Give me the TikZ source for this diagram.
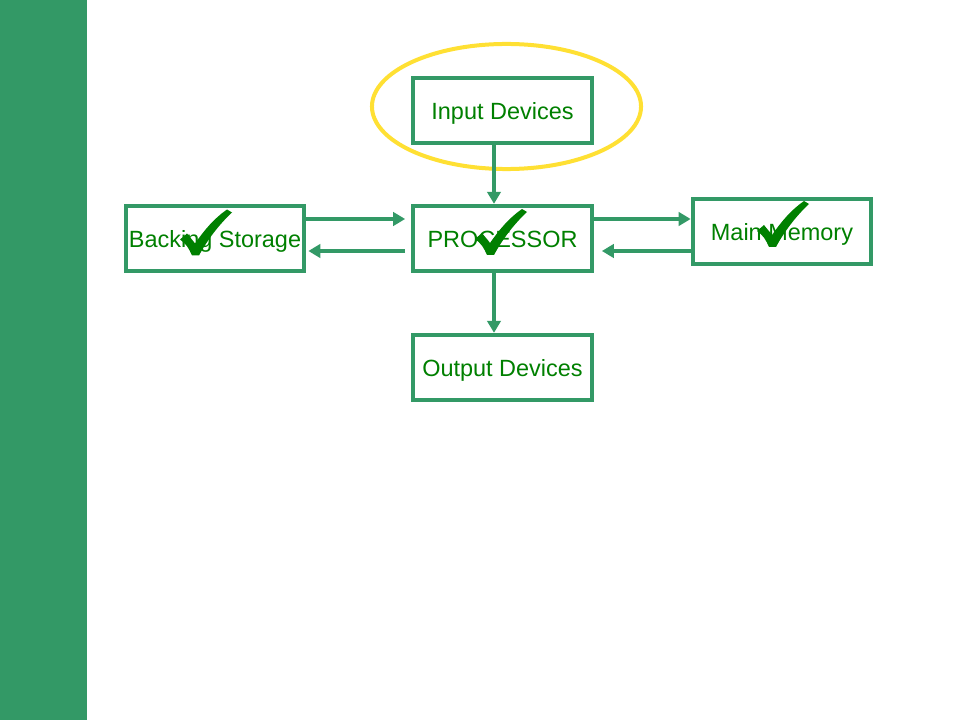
\documentclass[tikz,border=0pt]{standalone}
\usepackage{fontspec}
\setmainfont{Liberation Sans}
\usetikzlibrary{arrows.meta,calc}
\definecolor{boxgreen}{RGB}{51,153,102}
\definecolor{txtgreen}{RGB}{0,128,0}
\definecolor{ringyellow}{RGB}{255,224,51}
\begin{document}
\begin{tikzpicture}[x=0.75pt,y=-0.75pt,
  unitbox/.style={draw=boxgreen,line width=3pt,minimum width=134pt,minimum height=49pt,
    inner sep=0pt,text height=17.4pt,text depth=4pt,text=txtgreen,font=\fontsize{17.6}{21}\selectfont},
  flow/.style={draw=boxgreen,line width=3pt,-{Triangle[length=9pt,width=10pt]}},
  tickmark/.pic={\fill[txtgreen] (-3,0) .. controls (-6,-7) and (-9,-12) .. (-15,-16)
      -- (-8,-22) .. controls (-5,-18) and (-2,-15) .. (0,-12)
      .. controls (9,-25) and (19,-37) .. (32,-46) -- (37,-43)
      .. controls (24,-31) and (12,-15) .. (4,0) -- cycle;}]
\fill[white] (0,0) rectangle (960,720);
\useasboundingbox (0,0) rectangle (960,720);
\fill[boxgreen] (0,0) rectangle (87,720);
\draw[ringyellow,line width=3pt] (506.5,106.5) ellipse [x radius=100.9pt,y radius=46.9pt];
\node[unitbox] (inp) at (502.5,110.5) {Input Devices};
\node[unitbox] (back) at (215,238.5) {Backing Storage};
\node[unitbox] (proc) at (502.5,238.5) {PROCESSOR};
\node[unitbox] (mem) at (782,231.5) {Main Memory};
\node[unitbox] (out) at (502.5,367.5) {Output Devices};
\draw[flow] ($(inp.south)+(-8.5,0)$) -- ($(proc.north)+(-8.5,0)$);
\draw[flow] ($(proc.south)+(-8.5,0)$) -- ($(out.north)+(-8.5,0)$);
\draw[flow,shorten >=4.5pt] (back.east|-0,219) -- (proc.west|-0,219);
\draw[flow,shorten >=1.5pt,shorten <=4.5pt] (proc.west|-0,251) -- (back.east|-0,251);
\draw[flow] (proc.east|-0,219) -- (mem.west|-0,219);
\draw[flow,shorten >=6pt] (mem.west|-0,251) -- (proc.east|-0,251);
\pic at (195,255.5) {tickmark};
\pic at (490,255) {tickmark};
\pic at (772,247) {tickmark};
\end{tikzpicture}
\end{document}
